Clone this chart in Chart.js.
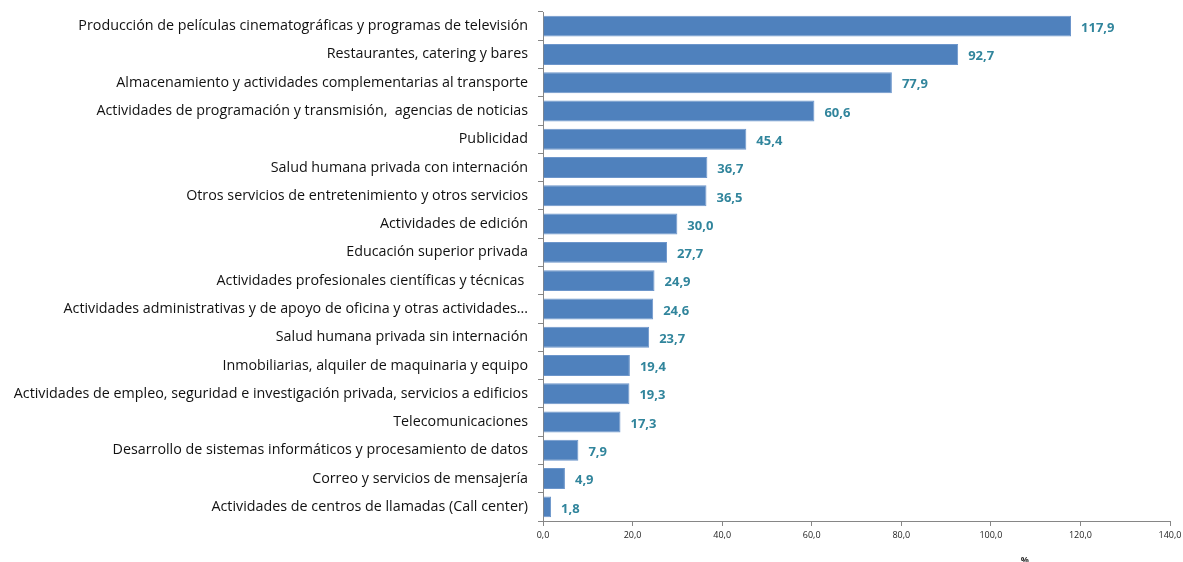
<!DOCTYPE html>
<html>
<head>
<meta charset="utf-8">
<script src="https://cdn.jsdelivr.net/npm/chart.js@4"></script>
<style>
  html, body { margin: 0; padding: 0; background: #fff; }
  #wrap { width: 1183px; height: 562px; }
</style>
</head>
<body>
<div id="wrap"><canvas id="bars"></canvas></div>
<script>
const categories = [
  "Producción de películas cinematográficas y programas de televisión",
  "Restaurantes, catering y bares",
  "Almacenamiento y actividades complementarias al transporte",
  "Actividades de programación y transmisión,  agencias de noticias",
  "Publicidad",
  "Salud humana privada con internación",
  "Otros servicios de entretenimiento y otros servicios",
  "Actividades de edición",
  "Educación superior privada",
  "Actividades profesionales científicas y técnicas ",
  "Actividades administrativas y de apoyo de oficina y otras actividades...",
  "Salud humana privada sin internación",
  "Inmobiliarias, alquiler de maquinaria y equipo",
  "Actividades de empleo, seguridad e investigación privada, servicios a edificios",
  "Telecomunicaciones",
  "Desarrollo de sistemas informáticos y procesamiento de datos",
  "Correo y servicios de mensajería",
  "Actividades de centros de llamadas (Call center)"
];
const values = [117.9, 92.7, 77.9, 60.6, 45.4, 36.7, 36.5, 30.0, 27.7, 24.9, 24.6, 23.7, 19.4, 19.3, 17.3, 7.9, 4.9, 1.8];
const xTicks = [0, 20, 40, 60, 80, 100, 120, 140];

const fmt = v => v.toFixed(1).replace(".", ",");

// value labels to the right of each bar
const valueLabels = {
  id: "valueLabels",
  afterDatasetsDraw(chart) {
    const ctx = chart.ctx;
    const meta = chart.getDatasetMeta(0);
    ctx.save();
    ctx.font = "bold 13px 'Open Sans'";
    ctx.fillStyle = "#31859C";
    ctx.textBaseline = "middle";
    meta.data.forEach((bar, i) => {
      ctx.fillText(fmt(values[i]), bar.x + 10, bar.y + 2);
    });
    // axis unit
    ctx.font = "bold 9px 'Open Sans'";
    ctx.fillStyle = "#333";
    ctx.textAlign = "center";
    ctx.fillText("%", chart.scales.x.getPixelForValue(107.6), 560);
    ctx.restore();
  }
};

new Chart(document.getElementById("bars"), {
  type: "bar",
  data: {
    labels: categories,
    datasets: [{
      data: values,
      backgroundColor: "#4F81BD",
      borderColor: "#6D96CB",
      borderWidth: 1,
      barPercentage: 0.74,
      categoryPercentage: 1.0
    }]
  },
  plugins: [valueLabels],
  options: {
    indexAxis: "y",
    responsive: true,
    maintainAspectRatio: false,
    animation: false,
    layout: { padding: { left: 0, right: 13, top: 12, bottom: 0 } },
    plugins: { legend: { display: false }, tooltip: { enabled: false } },
    scales: {
      x: {
        min: 0,
        max: 140,
        afterBuildTicks: s => { s.ticks = xTicks.map(v => ({ value: v })); },
        afterFit: s => { s.height = 41; s.paddingLeft = 0; s.paddingRight = 0; },
        border: { color: "#868686" },
        grid: { drawOnChartArea: false, drawTicks: true, tickLength: 5, color: "#868686" },
        ticks: {
          callback: v => fmt(v),
          font: { family: "'Open Sans'", size: 9 },
          color: "#222",
          padding: 4,
          maxRotation: 0
        }
      },
      y: {
        afterFit: s => { s.width = 543; s.paddingTop = 0; s.paddingBottom = 0; },
        border: { color: "#868686" },
        grid: { drawOnChartArea: false, drawTicks: true, tickLength: 5, color: "#868686", offset: true },
        ticks: {
          font: { family: "'Open Sans'", size: 14.3 },
          color: "#111",
          padding: 10,
          autoSkip: false
        }
      }
    }
  }
});
</script>
</body>
</html>
